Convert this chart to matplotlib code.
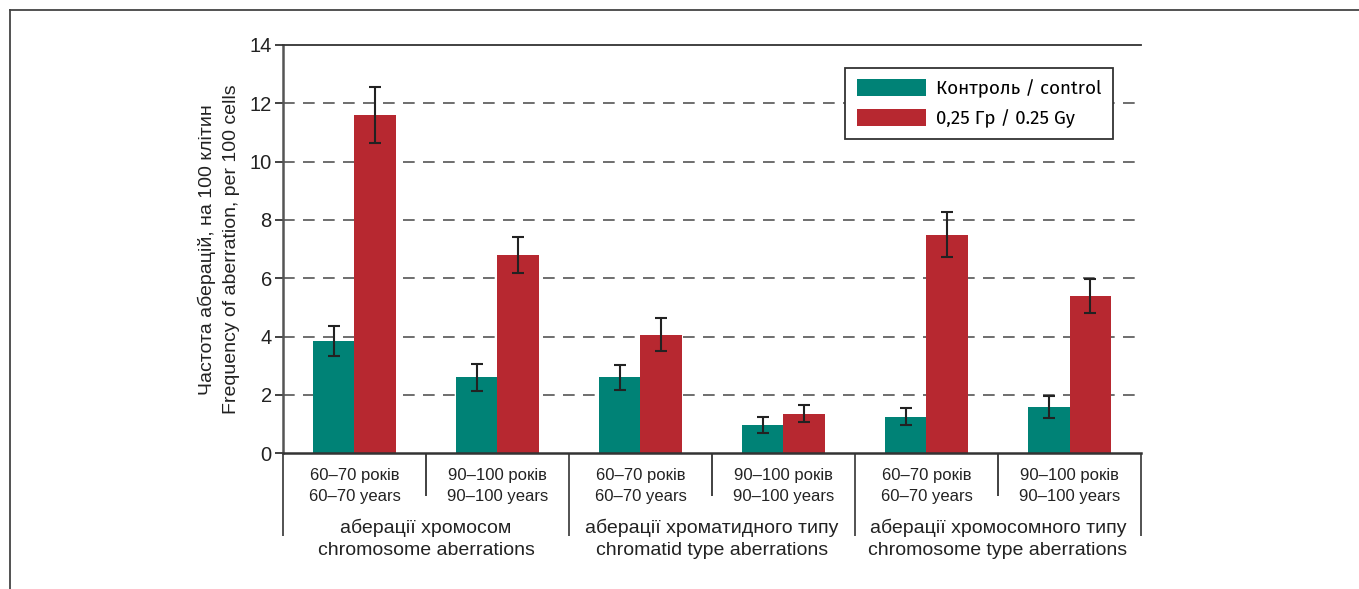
import matplotlib.pyplot as plt
from matplotlib.lines import Line2D
import numpy as np

# дані
age_labels = ["60–70 років\n60–70 years", "90–100 років\n90–100 years"] * 3
group_labels = ["аберації хромосом\nchromosome aberrations",
                "аберації хроматидного типу\nchromatid type aberrations",
                "аберації хромосомного типу\nchromosome type aberrations"]
control = [3.85, 2.6, 2.6, 0.97, 1.25, 1.6]
control_err = [0.5, 0.45, 0.42, 0.28, 0.29, 0.38]
dose = [11.6, 6.8, 4.07, 1.36, 7.5, 5.4]
dose_err = [0.97, 0.63, 0.57, 0.29, 0.76, 0.58]
legend_labels = ["Контроль / control", "0,25 Гр / 0.25 Gy"]

teal = "#008276"
red = "#b72830"
txt = "#222222"
cond = ["Liberation Sans", "DejaVu Sans"]

fig = plt.figure(figsize=(13.59, 5.89), dpi=100)
ax = fig.add_axes([0.2082, 0.2304, 0.6314, 0.6932])

x = np.arange(len(control)) + 0.5
w = 0.29
ekw = dict(ecolor="#222222", elinewidth=1.5, capsize=4.5, capthick=1.5)
ax.bar(x - w / 2, control, w, color=teal, yerr=control_err, error_kw=ekw,
       label=legend_labels[0], zorder=2)
ax.bar(x + w / 2, dose, w, color=red, yerr=dose_err, error_kw=ekw,
       label=legend_labels[1], zorder=2)

ax.set_xlim(0, 6)
ax.set_ylim(0, 14)
ax.set_yticks(range(0, 15, 2))
for v in range(2, 14, 2):
    ax.axhline(v, color="#555555", lw=1.2, ls=(0, (7, 5)), zorder=1)

ax.spines["right"].set_visible(False)
ax.spines["top"].set_color("#333333")
ax.spines["top"].set_linewidth(1.3)
ax.spines["left"].set_color("#555555")
ax.spines["left"].set_linewidth(1.8)
ax.spines["bottom"].set_color("#333333")
ax.spines["bottom"].set_linewidth(1.8)

ax.tick_params(axis="y", length=6, width=1.3, color="#333333",
               labelsize=14.5, labelcolor=txt, pad=2)
for t in ax.get_yticklabels():
    t.set_family(cond)

# двоярусна вісь категорій
ax.set_xticks([0, 2, 4, 6])
ax.set_xticks([1, 3, 5], minor=True)
ax.tick_params(axis="x", which="major", length=60, width=1.3, color="#444444",
               labelbottom=False)
ax.tick_params(axis="x", which="minor", length=31, width=1.3, color="#333333",
               labelbottom=False)

for xi, lab in zip(x, age_labels):
    ax.text(xi, -0.081, lab, transform=ax.get_xaxis_transform(), ha="center",
            va="center", fontsize=12, color=txt, family=cond, linespacing=1.5)
for i, lab in enumerate(group_labels):
    ax.text(2 * i + 1, -0.209, lab, transform=ax.get_xaxis_transform(),
            ha="center", va="center", fontsize=14, color=txt, family=cond,
            linespacing=1.35)

ax.set_ylabel("Частота аберацій, на 100 клітин\nFrequency of aberration, per 100 cells",
              fontsize=14, color=txt, family=cond, linespacing=1.5, labelpad=7)

leg = ax.legend(loc="upper right", bbox_to_anchor=(0.9674, 0.9437), frameon=True,
                fancybox=False, edgecolor="#333333", framealpha=1, borderaxespad=0,
                prop={"family": ["Fira Sans", "Open Sans", "DejaVu Sans"], "size": 13.5},
                handlelength=3.7, handleheight=1.0, handletextpad=0.55,
                borderpad=0.6, labelspacing=0.6)
leg.get_frame().set_linewidth(1.3)
for h in leg.legend_handles:
    h.set_edgecolor("none")

# рамка рисунка
fig.add_artist(Line2D([10 / 1359, 1], [1 - 10 / 589, 1 - 10 / 589], color="#444444", lw=1.3))
fig.add_artist(Line2D([10 / 1359, 10 / 1359], [0, 1 - 10 / 589], color="#444444", lw=1.3))

fig.savefig("out.png", dpi=100)
